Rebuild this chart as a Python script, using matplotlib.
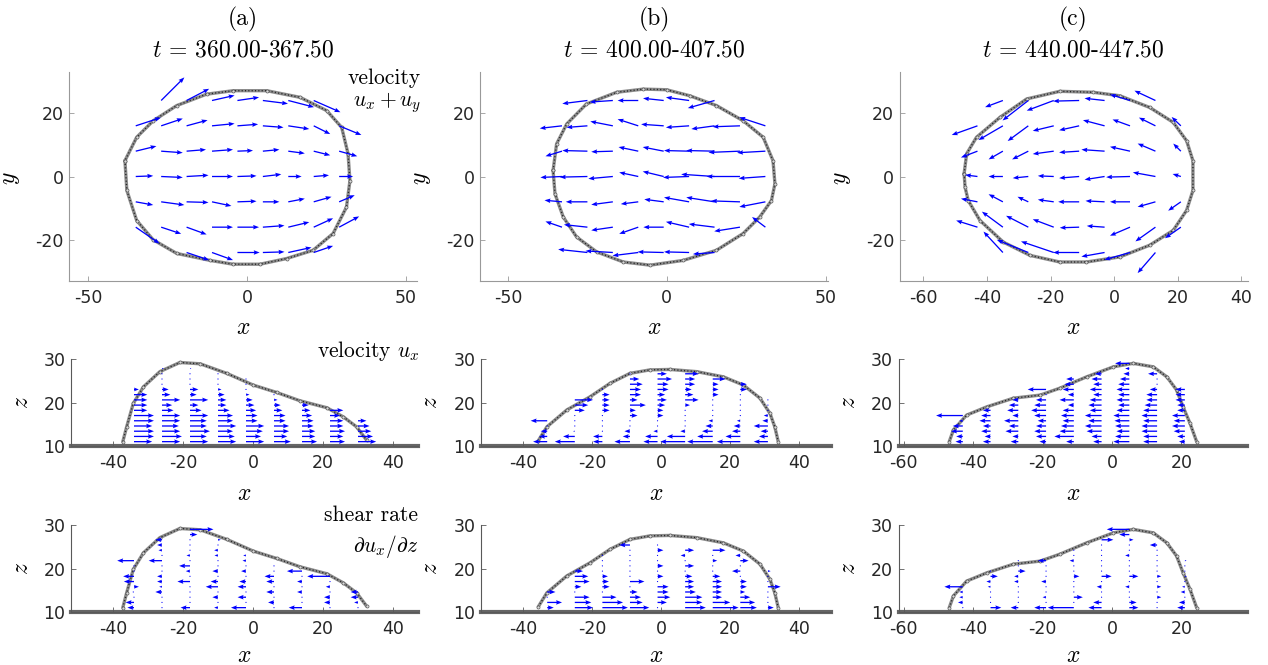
import numpy as np
import matplotlib.pyplot as plt

plt.rcParams['mathtext.fontset'] = 'cm'
plt.rcParams['axes.unicode_minus'] = False

panel_tags = ['(a)', '(b)', '(c)']
t_windows = ['360.00-367.50', '400.00-407.50', '440.00-447.50']

# droplet outline, top view (x, y)
top_a_x = [-38.4, -37.8, -34.7, -29.5, -22.1, -11.6, -4.4, 4.1, 12.5, 20.8, 27.1, 31.3,
           32.4, 31.8, 29.8, 25.1, 16.7, 6.2, -4.3, -12.7, -22.1, -29.5, -34.7]
top_a_y = [5.0, -4.4, -13.9, -20.0, -24.3, -26.5, -27.7, -27.7, -25.9, -23.3, -18.0, -9.7,
           -1.3, 7.2, 15.5, 20.8, 25.0, 27.1, 27.1, 26.0, 22.4, 17.6, 12.4]
top_b_x = [-35.8, -34.7, -31.5, -25.3, -15.8, -7.4, -0.1, 7.2, 15.6, 24.0, 30.3, 33.4,
           34.0, 32.9, 29.2, 24.0, 15.6, 5.1, -5.3, -13.7, -22.1, -28.4, -32.6, -35.2]
top_b_y = [1.9, 10.3, 16.6, 22.9, 26.6, 27.6, 27.4, 25.5, 22.4, 17.6, 12.4, 5.0,
           -2.3, -7.6, -12.8, -18.0, -23.3, -26.5, -28.0, -27.0, -23.8, -19.1, -12.8, -5.5]
top_c_x = [-47.2, -46.4, -43.3, -35.9, -27.5, -17.1, -6.6, 1.8, 11.2, 18.6, 22.8, 24.8,
           24.8, 22.8, 18.6, 11.2, 1.8, -8.7, -17.1, -26.5, -34.9, -42.2, -45.9, -46.9]
top_c_y = [0.9, 7.2, 12.4, 18.7, 24.5, 26.9, 26.6, 25.5, 21.8, 17.1, 11.3, 5.0,
           -4.4, -10.7, -17.0, -21.7, -25.4, -27.0, -27.0, -24.9, -20.7, -13.9, -7.6, -3.4]

# droplet outline, side view (x, z)
side_a_x = [-37.2, -36.1, -34.2, -31.3, -26.6, -20.9, -15.1, -7.5, 0.1, 6.8, 13.4, 21.1, 25.8, 29.6, 32.5]
side_a_z = [11.0, 14.4, 19.8, 23.6, 27.1, 29.2, 28.9, 26.7, 24.0, 22.3, 20.4, 18.8, 16.7, 14.4, 11.3]
side_b_x = [-35.6, -33.1, -27.3, -20.6, -14.8, -9.0, -3.2, 2.6, 10.3, 18.1, 23.9, 28.7, 31.6, 33.0, 34.0]
side_b_z = [11.2, 14.4, 18.3, 21.3, 24.4, 26.7, 27.5, 27.6, 27.1, 25.9, 24.0, 21.0, 17.5, 14.4, 11.0]
side_c_x = [-46.9, -45.7, -41.9, -36.1, -28.4, -20.7, -15.0, -7.3, 0.4, 6.1, 11.9, 15.8, 18.6, 20.5, 22.5, 24.4]
side_c_z = [11.0, 13.7, 17.1, 19.0, 21.0, 21.7, 23.3, 25.9, 28.2, 29.0, 28.2, 25.9, 22.9, 19.0, 15.2, 11.0]

# top view velocity u_x + u_y: (x, y, u, v)
top_a_vel = [
    (-27, 24, 7.3, 7.3), (-19, 24, 7.1, 3.7), (-11, 24, 7.1, 1.6), (-3, 24, 6.8, 1.0),
    (5, 24, 7.9, -1.0), (13, 24, 8.1, -2.1), (21, 24, 8.4, -3.7),
    (-35, 16, 7.9, 2.6), (-27, 16, 6.8, 2.3), (-19, 16, 6.6, 1.8), (-11, 16, 7.1, 0.7),
    (-3, 16, 6.5, 0.5), (5, 16, 6.5, -0.5), (13, 16, 6.6, -1.0), (21, 16, 5.2, -2.6), (29, 16, 7.0, -2.9),
    (-35, 8, 6.5, 1.6), (-27, 8, 6.8, -0.5), (-19, 8, 6.1, 0.5), (-11, 8, 6.6, 0.5),
    (-3, 8, 4.9, 0.2), (5, 8, 5.2, 0.5), (13, 8, 5.2, -0.7), (21, 8, 5.2, -1.3), (29, 8, 5.7, -1.6),
    (-35, 0, 5.5, 0.2), (-27, 0, 6.8, -0.3), (-19, 0, 6.9, 0.4), (-11, 0, 6.6, 0.0),
    (-3, 0, 6.0, 0.2), (5, 0, 5.8, 0.7), (13, 0, 4.2, 0.0), (21, 0, 4.8, 0.4), (29, 0, 4.4, 0.0),
    (-35, -8, 5.5, -1.0), (-27, -8, 7.3, -1.0), (-19, -8, 6.9, -0.2), (-11, -8, 6.1, -1.3),
    (-3, -8, 6.0, 0.2), (5, -8, 5.2, 0.0), (13, -8, 5.2, 1.0), (21, -8, 5.6, 1.6), (29, -8, 4.9, 2.1),
    (-35, -16, 7.5, -5.2), (-27, -16, 6.3, -2.1), (-19, -16, 6.3, -2.3), (-11, -16, 6.6, 0.0),
    (-3, -16, 6.8, 0.0), (5, -16, 6.8, 0.5), (13, -16, 6.6, 1.6), (21, -16, 6.1, 2.8), (29, -16, 6.3, 3.4),
    (-19, -24, 7.1, -2.4), (-11, -24, 6.6, -2.4), (-3, -24, 7.0, 0.0), (5, -24, 6.8, 0.2),
    (13, -24, 7.3, 1.6), (21, -24, 6.1, 2.1),
]
top_b_vel = [
    (-25, 24, -7.9, -1.0), (-17, 24, -7.3, -0.5), (-9, 24, -6.5, 0.0), (-1, 24, -6.5, 0.7),
    (7, 24, -7.3, 1.0), (15, 24, -8.4, -2.4),
    (-33, 16, -7.0, -0.8), (-25, 16, -6.6, -0.5), (-17, 16, -7.1, 1.4), (-9, 16, -6.5, 2.1),
    (-1, 16, -7.1, 0.5), (7, 16, -7.3, -0.5), (15, 16, -7.3, -1.0), (23, 16, -8.6, -0.3), (31, 16, -8.2, 2.7),
    (-33, 8, -5.2, -1.6), (-25, 8, -7.9, 0.2), (-17, 8, -6.8, -0.2), (-9, 8, -6.2, 1.3),
    (-1, 8, -6.6, 1.3), (7, 8, -7.9, 0.2), (15, 8, -8.9, 0.2), (23, 8, -9.9, -0.4), (31, 8, -8.9, -0.5),
    (-33, 0, -6.8, -0.3), (-25, 0, -8.7, -0.2), (-17, 0, -7.7, -0.7), (-9, 0, -6.0, 1.3),
    (-1, 0, -6.6, 1.6), (7, 0, -8.2, -0.3), (15, 0, -10.5, 0.7), (23, 0, -10.5, 0.0), (31, 0, -8.4, -0.6),
    (-33, -8, -5.5, 0.5), (-25, -8, -6.8, 0.0), (-17, -8, -6.8, -0.9), (-9, -8, -5.5, -0.7),
    (-1, -8, -6.1, 0.8), (7, -8, -7.9, 1.4), (15, -8, -8.9, 1.4), (23, -8, -9.1, 0.3), (31, -8, -8.2, -1.6),
    (-33, -16, -5.2, 1.8), (-25, -16, -7.4, 0.8), (-17, -16, -6.8, -1.0), (-9, -16, -6.0, -2.1),
    (-1, -16, -6.4, 0.0), (7, -16, -7.3, 1.7), (15, -16, -8.1, 1.0), (23, -16, -8.1, -1.3), (31, -16, -4.2, 3.2),
    (-25, -24, -9.2, 1.0), (-17, -24, -8.6, 0.5), (-9, -24, -8.1, -1.0), (-1, -24, -8.2, 0.2),
    (7, -24, -7.9, 0.2), (15, -24, -6.8, -0.5),
]
top_c_vel = [
    (-35, 24, -5.6, -2.1), (-27, 24, -8.1, -6.3), (-19, 24, -8.5, -3.2), (-11, 24, -8.2, -0.2),
    (-3, 24, -6.3, 0.7), (5, 24, -6.3, 1.9), (13, 24, -6.6, 3.1),
    (-43, 16, -8.1, -2.9), (-35, 16, -7.7, -4.5), (-27, 16, -6.5, -4.8), (-19, 16, -6.6, -1.6),
    (-11, 16, -6.3, -1.4), (-3, 16, -6.8, 1.8), (5, 16, -5.5, 2.0), (13, 16, -5.2, 2.6), (21, 16, -2.9, 2.8),
    (-43, 8, -5.2, -2.0), (-35, 8, -4.5, -2.6), (-27, 8, -5.1, -2.6), (-19, 8, -6.6, -0.9),
    (-11, 8, -6.3, -0.4), (-3, 8, -7.3, 0.5), (5, 8, -6.3, 1.4), (13, 8, -5.6, 2.4), (21, 8, -2.4, 2.4),
    (-43, 0, -3.9, 0.5), (-35, 0, -4.5, 0.0), (-27, 0, -4.9, -0.5), (-19, 0, -5.0, 0.2),
    (-11, 0, -6.3, -0.5), (-3, 0, -6.3, -1.0), (5, 0, -7.5, -0.2), (13, 0, -7.1, 1.3), (21, 0, -2.6, 0.8),
    (-43, -8, -5.2, 1.0), (-35, -8, -4.5, 2.4), (-27, -8, -3.4, 1.6), (-19, -8, -5.0, 0.7),
    (-11, -8, -6.6, 0.0), (-3, -8, -6.0, 0.3), (5, -8, -6.3, 0.0), (13, -8, -5.6, -1.6), (21, -8, -4.0, -2.8),
    (-43, -16, -6.7, 2.1), (-35, -16, -6.6, 4.9), (-27, -16, -7.0, 3.6), (-19, -16, -6.6, 2.5),
    (-11, -16, -6.1, -0.2), (-3, -16, -5.6, 0.4), (5, -16, -6.3, -2.7), (13, -16, -6.3, -4.5), (21, -16, -5.0, -3.5),
    (-35, -24, -6.1, 6.6), (-27, -24, -9.9, 4.0), (-19, -24, -10.3, 3.5), (-11, -24, -8.2, 0.0),
    (-3, -24, -7.3, -1.3), (5, -24, -8.1, -2.3), (13, -24, -5.6, -6.5),
]

# side view sampling heights (bottom to top)
z_levels = [11.0, 12.2, 13.4, 14.6, 15.8, 17.0, 18.2, 19.4, 20.6, 21.8, 23.0, 24.2, 25.4, 26.6, 27.8, 29.0]

# side view columns and u_x at each level (from the bottom up)
cols_a = [-34, -26, -18, -10, -2, 6, 14, 22, 30]
cols_b = [-33, -25, -17, -9, -1, 7, 15, 23, 31]
cols_c = [-43, -35, -27, -19, -11, -3, 5, 13, 21]

ux_a = [
    [5.2, 5.7, 5.7, 5.2, 5.7, 5.7, 3.8, 3.8, 3.8, 3.8, 1.4],
    [5.2, 5.7, 5.2, 4.8, 5.2, 5.2, 3.3, 2.9, 5.2, 2.4, 1.9, 0.3, 0.3, 0.2, 0.5],
    [5.2, 4.8, 5.7, 4.8, 4.8, 5.2, 3.3, 2.4, 5.2, 1.9, 2.4, 0.3, 0.3, 0.3, 0.4],
    [5.2, 4.8, 4.3, 5.2, 4.3, 4.3, 3.3, 2.4, 2.4, 1.9, 1.0, 0.2, 0.2, 0.2],
    [5.2, 4.3, 4.8, 5.2, 3.3, 3.3, 2.9, 2.4, 1.9, 1.0, 0.2, 0.2, 0.2],
    [4.8, 3.8, 4.3, 4.3, 3.3, 3.3, 2.4, 1.9, 1.0, 0.2],
    [4.3, 3.8, 3.8, 3.3, 3.3, 2.9, 2.4, 1.9],
    [4.3, 3.8, 4.3, 3.8, 3.8, 2.9, 3.8],
    [5.2, 4.3, 3.8, 3.3, 2.4],
]
ux_b = [
    [-4.1, -2.4, -1.9, -0.3, -4.8],
    [-5.8, -3.4, -0.5, -0.3, -0.2, 0.3, 2.9, 3.9, 5.3],
    [-2.7, -2.7, -0.3, -0.3, -0.3, 0.3, 2.1, 2.1, 2.1, 2.1, 0.3],
    [-4.5, -2.1, -1.6, -0.3, -0.3, 2.2, 1.7, 4.6, 2.2, 3.2, 3.2, 3.7, 2.7, 0.3],
    [-4.1, -3.6, -1.2, -0.3, -0.3, 1.7, 1.7, 2.2, 2.7, 2.2, 3.2, 3.2, 4.2, 2.7],
    [-7.2, -5.3, -1.4, -0.3, -0.3, 0.3, 0.3, 1.4, 3.9, 2.4, 1.9, 2.9, 2.9, 3.9],
    [-7.4, -4.5, -3.1, -2.1, -1.2, -0.3, 0.3, 0.3, 0.3, 1.7, 1.7, 1.7, 3.7],
    [-6.8, -4.3, -2.4, -1.9, -1.0, -0.3, 0.3, 0.3, 0.3, 0.3, 1.9, 1.9],
    [-4.1, -2.6, -2.1, -4.1, -1.6, -1.2, -0.3, 0.3, 0.3],
]
ux_c = [
    [-2.1, -1.9, -3.4, -2.9, -1.0, -7.7],
    [-2.2, -1.7, -2.7, -2.2, -3.2, -2.7, -2.2],
    [-2.2, -1.7, -3.7, -2.7, -4.1, -1.7, -3.2, -2.7, -1.7],
    [-1.9, -2.9, -3.4, -2.9, -2.4, -3.4, -4.3, -3.4, -2.9, -0.3, -5.3],
    [-2.2, -5.6, -4.1, -3.7, -3.2, -3.7, -3.2, -1.7, -4.1, -1.7, -3.2, -2.7, -2.2],
    [-2.4, -2.9, -4.3, -4.8, -3.8, -4.8, -3.4, -3.8, -3.4, -2.4, -3.4, -2.4, -2.9, -1.9],
    [-4.6, -4.1, -3.7, -4.1, -4.3, -4.6, -3.7, -3.2, -3.7, -3.2, -3.7, -3.2, -2.7, -1.7, -1.2, -4.1],
    [-4.0, -4.0, -4.5, -4.5, -4.0, -4.5, -4.0, -3.6, -3.1, -3.1, -2.1, -0.3, -0.3, -2.6],
    [-1.7, -2.2, -3.2, -3.7, -3.2, -3.7, -2.2, -2.2, -2.7, -2.7, -2.7],
]

# side view shear rate du_x/dz at each level (from the bottom up)
shear_a = [
    [-1.9, -2.4, -0.3, -0.5, 1.4, -2.9, -3.1, -0.3, -0.3, -4.8],
    [-0.3, -0.3, -0.3, -1.9, -0.8, -1.4, -1.4, -0.3, -0.3, -3.8, -0.3, -1.0, -1.4, -1.9],
    [-2.7, -0.3, -0.3, -0.3, -0.3, -3.6, -0.3, -1.2, -3.1, -0.3, -1.0, -0.3, -0.3, -0.3, 2.1, 6.7],
    [-1.1, -0.3, -1.6, -0.3, -3.5, -2.1, -0.3, -1.6, -0.3, -0.3, -1.0, -1.1, -0.3, 0.8],
    [-4.3, -0.3, -2.4, -0.3, -2.4, -1.9, -0.3, -1.4, -0.3, -1.0, -0.8],
    [-0.3, -1.7, -0.3, -2.2, -0.3, -2.2, -2.7, -0.3, -0.3],
    [-3.8, -0.3, -0.3, -1.4, -0.3, -1.4, -0.3, -4.3],
    [-0.3, -1.7, -1.7, -0.3, -1.2, -0.3, -6.5],
    [-0.3, -1.1, -2.1, -2.1],
]
shear_b = [
    [1.9, 4.3, 0.3, 2.4],
    [5.3, 4.8, 4.3, 0.3, 1.9, 4.3, 3.9, 2.4],
    [7.4, 6.0, 4.1, 0.3, 2.1, 1.9, 1.6, 0.3, 0.3, 0.3, 0.3],
    [5.6, 3.7, 3.2, 2.2, 0.3, 4.2, 0.3, 0.3, 0.3, 0.3, 0.3, 0.3, -3.1],
    [0.3, 2.7, 3.7, 3.2, 3.2, 0.3, 1.7, 0.3, 1.7, 0.3, 0.3, 1.7, 0.3],
    [6.0, 5.0, 5.0, 3.1, 2.6, 2.6, 2.1, 0.3, 2.6, 0.3, -1.3, 2.6],
    [7.5, 5.1, 2.7, 2.7, 2.7, 2.7, 2.2, 0.3, 0.3, 1.3, 0.3, 3.7],
    [4.8, 4.3, 2.9, 1.4, 1.9, 1.9, 0.3, -2.4, 0.3, 2.4, -1.4],
    [1.7, 0.3, 0.3, 0.3, 3.7, 0.3, 0.3, 0.8],
]
shear_c = [
    [0.3, -1.4, -1.0, -1.0, -5.3],
    [3.1, 0.3, 0.3, 0.3, -0.8, -1.2, 2.1, 0.3],
    [-2.2, 0.3, 0.3, 0.3, 0.3, -1.2, -1.2, 2.1, 0.3, 0.3],
    [-3.4, 0.3, -1.0, 0.3, 0.3, -1.4, 0.3, 0.3, 0.3, -2.4],
    [-7.5, 0.3, 2.6, 0.3, 0.3, 0.3, 1.6, 0.3, 0.3, -1.2, 0.3, 0.3],
    [-3.8, -2.4, 0.3, 0.3, -1.4, 0.3, 2.9, 0.3, 0.3, 0.3, 0.3, 0.3, 0.3, 3.4],
    [2.6, 2.1, 0.3, 0.3, -1.2, 0.3, 2.6, 0.3, 0.3, 0.3, -1.2, 0.3, 0.3, 1.2, -2.9, -6.5],
    [0.3, 0.3, 1.2, 0.3, 1.2, 0.3, 1.2, 0.3, 0.3, 0.3, 0.3, 0.3, -2.1],
    [-2.2, -1.7, 0.3, -1.2, -0.8, 0.3, 0.6, 0.3, 0.3, 0.5],
]

W, H = 1268, 665
fig = plt.figure(figsize=(W / 100, H / 100), dpi=100)


def px_axes(left, bottom, width, height):
    # rectangle given in pixels from the top-left corner
    return fig.add_axes([left / W, 1 - bottom / H, width / W, height / H])


def style(ax, xlim, ylim, xticks, yticks, spine):
    ax.set_xlim(*xlim)
    ax.set_ylim(*ylim)
    ax.set_xticks(xticks)
    ax.set_yticks(yticks)
    ax.patch.set_visible(False)
    for s in ['top', 'right']:
        ax.spines[s].set_visible(False)
    for s in ['left', 'bottom']:
        ax.spines[s].set_color(spine)
        ax.spines[s].set_linewidth(0.8)
    ax.tick_params(direction='in', length=3.5, width=0.6, color=spine,
                   labelsize=12.5, labelcolor='0.15')
    ax.tick_params(axis='x', pad=6)
    ax.tick_params(axis='y', pad=4)


def outline(ax, x, y, closed=False):
    x, y = list(x), list(y)
    if closed:
        x.append(x[0])
        y.append(y[0])
    ax.plot(x, y, color='0.55', lw=2.4, solid_capstyle='round', zorder=2)
    ax.plot(x, y, color='0.15', lw=1.0, ls=(0, (0.8, 1.6)), zorder=2.1)
    ax.plot(x, y, ls='none', marker='o', ms=2.2, mfc='0.85', mec='0.35', mew=0.5, zorder=2.2)


def arrows(ax, X, Y, U, V):
    ax.quiver(X, Y, U, V, color='blue', angles='xy', scale_units='xy', scale=1,
              units='dots', width=1.3, headwidth=3.5, headlength=4.6, headaxislength=4.1,
              minlength=1, zorder=3)


def side_arrows(ax, cols, values):
    X, Z, U = [], [], []
    for xc, us in zip(cols, values):
        for k, u in enumerate(us):
            X.append(xc)
            Z.append(z_levels[k])
            U.append(u)
    arrows(ax, X, Z, U, np.zeros(len(U)))


# layout in pixels
top_left = [69, 480, 899.6]
top_xlim = [(-56, 53.5), (-58.8, 50.7), (-67.5, 42)]
top_xticks = [[-50, 0, 50], [-50, 0, 50], [-60, -40, -20, 0, 20, 40]]
side_left = [71, 481, 898.6]
side_width = [346.5, 350, 348.7]
side_xlim = [(-52, 47), (-52.2, 49.3), (-61.5, 39)]
side_xticks = [[-40, -20, 0, 20, 40], [-40, -20, 0, 20, 40], [-60, -40, -20, 0, 20]]

top_outlines = [(top_a_x, top_a_y), (top_b_x, top_b_y), (top_c_x, top_c_y)]
top_fields = [top_a_vel, top_b_vel, top_c_vel]
side_outlines = [(side_a_x, side_a_z), (side_b_x, side_b_z), (side_c_x, side_c_z)]
side_cols = [cols_a, cols_b, cols_c]
ux_all = [ux_a, ux_b, ux_c]
shear_all = [shear_a, shear_b, shear_c]

lab = dict(fontsize=17, color='black')

for j in range(3):
    # top view
    ax = px_axes(top_left[j], 281, 348, 209)
    outline(ax, *top_outlines[j], closed=True)
    f = np.array(top_fields[j])
    arrows(ax, f[:, 0], f[:, 1], f[:, 2], f[:, 3])
    style(ax, top_xlim[j], (-33, 33), top_xticks[j], [-20, 0, 20], '0.6')
    ax.set_xlabel(r'$x$', **lab)
    ax.set_ylabel(r'$y$', **lab)
    ax.xaxis.set_label_coords(0.5, -0.165)
    ax.yaxis.set_label_coords(-0.135, 0.49)

    cx = (top_left[j] + 174) / W
    fig.text(cx, 1 - 19 / H, panel_tags[j], family='cmr10', fontsize=17,
             ha='center', va='center')
    fig.text(cx, 1 - 50 / H, r'$t$ = ' + t_windows[j], family='cmr10', fontsize=17,
             ha='center', va='center')

    # side view, velocity and shear rate
    for bottom, vals, xl in [(446, ux_all[j], -0.40), (612, shear_all[j], -0.36)]:
        ax = px_axes(side_left[j], bottom, side_width[j], 87)
        ax.axhline(10, color='0.4', lw=3, zorder=1.5, clip_on=False)
        outline(ax, *side_outlines[j])
        side_arrows(ax, side_cols[j], vals)
        style(ax, side_xlim[j], (10, 30), side_xticks[j], [10, 20, 30], '0.35')
        ax.set_xlabel(r'$x$', **lab)
        ax.set_ylabel(r'$z$', **lab)
        ax.xaxis.set_label_coords(0.5, xl)
        ax.yaxis.set_label_coords(-0.11, 0.5)

# annotations for column (a)
fig.text(421 / W, 1 - 78 / H, 'velocity', family='cmr10', fontsize=15.5, ha='right', va='center')
fig.text(421 / W, 1 - 103 / H, r'$u_x + u_y$', fontsize=15.5, ha='right', va='center')
fig.text(419 / W, 1 - 351 / H, r'velocity $u_x$', family='cmr10', fontsize=15.5,
         ha='right', va='center')
fig.text(418 / W, 1 - 515 / H, 'shear rate', family='cmr10', fontsize=15.5, ha='right', va='center')
fig.text(418 / W, 1 - 547 / H, r'$\partial u_x/\partial z$', fontsize=15.5, ha='right', va='center')

fig.savefig('out.png', dpi=100)
